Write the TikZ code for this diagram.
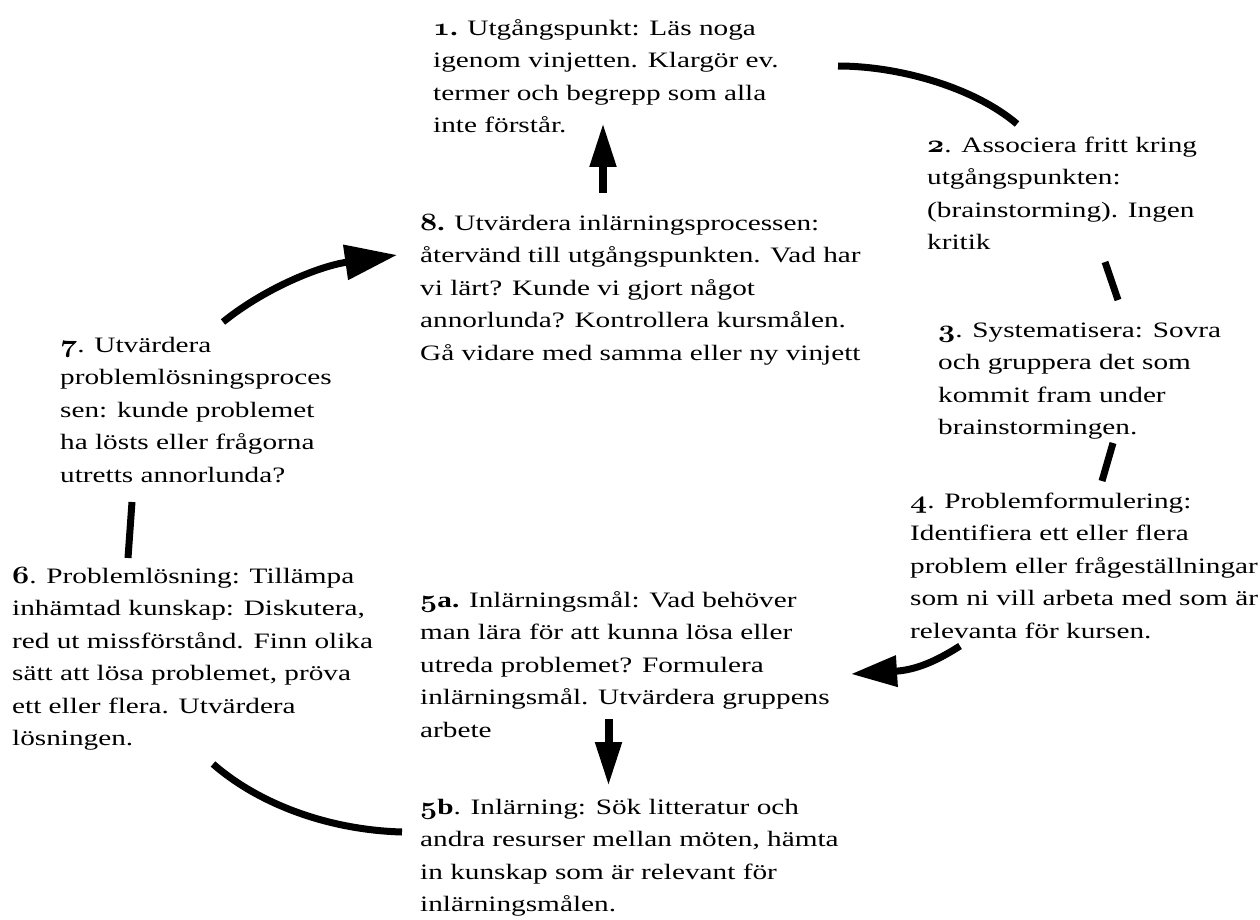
\documentclass[tikz,border=0pt]{standalone}
\usepackage{fontspec}
\setmainfont{Liberation Serif}[FakeStretch=1.33]
\usetikzlibrary{arrows.meta}
\newcommand\osn[1]{\scalebox{1.2}[1]{\fontencoding{OML}\fontfamily{cmm}\fontseries{b}\fontshape{it}\fontsize{25}{0}\selectfont #1}}
\tikzset{
  txt/.style={anchor=north west, inner sep=0pt, align=left,
    font=\fontsize{22}{32.5}\selectfont},
  conn/.style={line width=7pt},
  arr/.style={line width=7pt, -{Triangle[length=46pt,width=30pt]}},
  sarr/.style={line width=8pt, -{Triangle[length=44pt,width=25pt]}}
}
\begin{document}
\begin{tikzpicture}[x=1pt,y=-1pt]
\useasboundingbox (0,0) rectangle (1260,920);
% text blocks (top = first baseline - 22.75)
\node[txt] (n1) at (433,12.25) {\strut\textbf{\osn{1}.} Utgångspunkt: Läs noga\\igenom vinjetten. Klargör ev.\\termer och begrepp som alla\\inte förstår.};
\node[txt] (n2) at (927,129.25) {\strut\textbf{\osn{2}}. Associera fritt kring\\utgångspunkten:\\(brainstorming). Ingen\\kritik};
\node[txt] (n3) at (938,314.25) {\strut\textbf{\osn{3}}. Systematisera: Sovra\\och gruppera det som\\kommit fram under\\brainstormingen.};
\node[txt] (n4) at (910,485.25) {\strut\textbf{\osn{4}}. Problemformulering:\\Identifiera ett eller flera\\problem eller frågeställningar\\som ni vill arbeta med som är\\relevanta för kursen.};
\node[txt] (n5a) at (420,584.25) {\strut\textbf{\osn{5}a.} Inlärningsmål: Vad behöver\\man lära för att kunna lösa eller\\utreda problemet? Formulera\\inlärningsmål. Utvärdera gruppens\\arbete};
\node[txt] (n5b) at (420,791.25) {\strut\textbf{\osn{5}b}. Inlärning: Sök litteratur och\\andra resurser mellan möten, hämta\\in kunskap som är relevant för\\inlärningsmålen.};
\node[txt] (n6) at (12,560.25) {\strut\textbf{\osn{6}}. Problemlösning: Tillämpa\\inhämtad kunskap: Diskutera,\\red ut missförstånd. Finn olika\\sätt att lösa problemet, pröva\\ett eller flera. Utvärdera\\lösningen.};
\node[txt] (n7) at (60,329.25) {\strut\textbf{\osn{7}}. Utvärdera\\problemlösningsproces\\sen: kunde problemet\\ha lösts eller frågorna\\utretts annorlunda?};
\node[txt] (n8) at (420,207.25) {\strut\textbf{\osn{8}.} Utvärdera inlärningsprocessen:\\återvänd till utgångspunkten. Vad har\\vi lärt? Kunde vi gjort något\\annorlunda? Kontrollera kursmålen.\\Gå vidare med samma eller ny vinjett};
% connector end points
\coordinate (a1s) at (838,66);  \coordinate (a1e) at (1017,124);
\coordinate (a2s) at (1105,262); \coordinate (a2e) at (1118,300);
\coordinate (a3s) at (1113,443); \coordinate (a3e) at (1102,481);
\coordinate (a4s) at (960,646);  \coordinate (a4e) at (851,674);
\coordinate (a5s) at (608.5,719); \coordinate (a5e) at (608.5,786);
\coordinate (a6s) at (402,832);  \coordinate (a6e) at (213,764);
\coordinate (a7s) at (128,558);  \coordinate (a7e) at (132,502);
\coordinate (a8s) at (223,322);  \coordinate (a8e) at (397,255);
\coordinate (a9s) at (603,193);  \coordinate (a9e) at (603,123);
% connectors
\draw[conn] (a1s) .. controls (900,66) and (975,88) .. (a1e);
\draw[conn] (a2s) -- (a2e);
\draw[conn] (a3s) -- (a3e);
\draw[arr] (a4s) .. controls (935,662) and (915,670) .. (a4e);
\draw[sarr] (a5s) -- (a5e);
\draw[conn] (a6s) .. controls (330,830) and (260,805) .. (a6e);
\draw[conn] (a7s) -- (a7e);
\draw[arr, -{Triangle[length=52pt,width=34pt]}] (a8s) .. controls (265,288) and (320,266) .. (a8e);
\draw[sarr] (a9s) -- (a9e);
\end{tikzpicture}
\end{document}
